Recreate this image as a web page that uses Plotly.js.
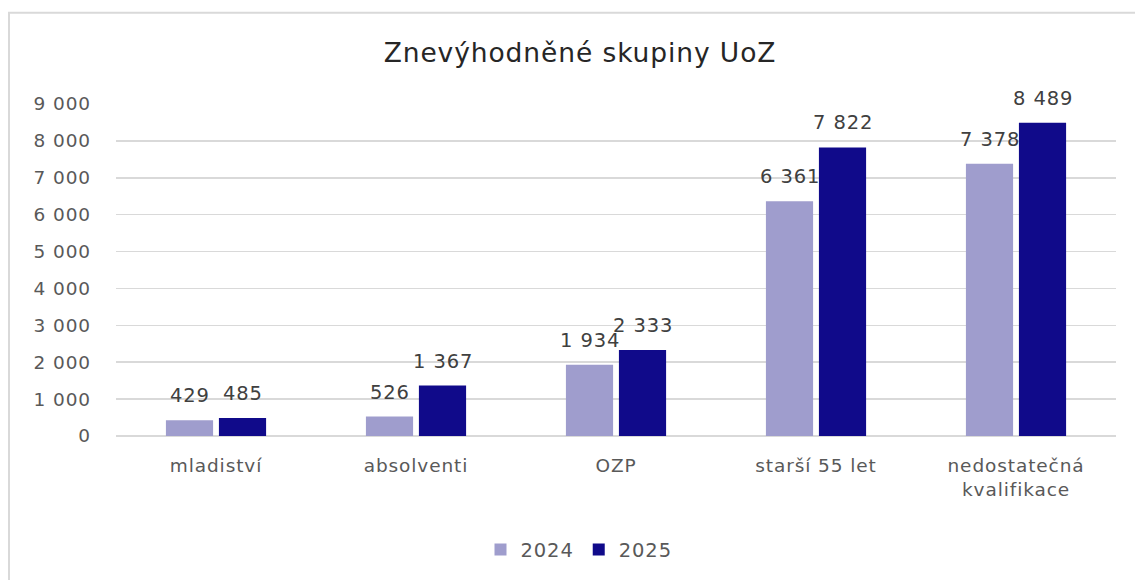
<!DOCTYPE html>
<html>
<head>
<meta charset="utf-8">
<script src="https://cdn.plot.ly/plotly-3.0.1.min.js"></script>
<style>
html,body{margin:0;padding:0;background:#fff;}#chart{width:1135px;height:580px;}
svg text{letter-spacing:0.9px;}
</style>
</head>
<body>
<div id="chart"></div>
<script>
const categories = ["mladiství", "absolventi", "OZP", "starší 55 let", "nedostatečná<br>kvalifikace"];
const values2024 = [429, 526, 1934, 6361, 7378];
const values2025 = [485, 1367, 2333, 7822, 8489];
const seriesNames = ["2024", "2025"];
const tickValues = [0, 1000, 2000, 3000, 4000, 5000, 6000, 7000, 8000, 9000];

const FONT = "DejaVu Sans, Noto Sans, sans-serif";
const LABEL_COLOR = "#404040";
const mk = (name, vals, color) => ({
  type: "bar", name: name, x: categories, y: vals,
  marker: {color: color}, hoverinfo: "none"
});
const data = [mk(seriesNames[0], values2024, "#9f9dcd"), mk(seriesNames[1], values2025, "#100a8a")];

const fmt = v => String(v).replace(/\B(?=(\d{3})+(?!\d))/g, " ");
const annotations = [];
[[values2024, -26.5], [values2025, 26.5]].forEach(([vals, dx]) => {
  vals.forEach((v, i) => annotations.push({
    x: categories[i], y: v, xref: "x", yref: "y", text: fmt(v), showarrow: false,
    xshift: dx, yshift: 11, yanchor: "bottom", xanchor: "center",
    font: {size: 19.5, color: LABEL_COLOR, family: FONT}
  }));
});

const layout = {
  width: 1135, height: 580,
  margin: {l: 116, r: 19, t: 104, b: 143},
  paper_bgcolor: "#fff", plot_bgcolor: "#fff",
  separators: ", ",
  font: {family: FONT, color: "#595959"},
  title: {text: "Znevýhodněné skupiny UoZ", x: 0.511, xref: "container", y: 0.909, yref: "container", yanchor: "middle", xanchor: "center",
          font: {size: 26.5, color: "#262626", family: FONT}},
  bargap: 0.47, bargroupgap: 0.11,
  xaxis: {type: "category", tickfont: {size: 18.5, color: "#595959"}, ticks: "", showline: false, showgrid: false, ticklabelstandoff: 16, fixedrange: true},
  yaxis: {range: [0, 9000], tickvals: tickValues, tickformat: ",d", tickfont: {size: 18.5, color: "#595959"},
          gridcolor: "#d9d9d9", gridwidth: 1.5, zeroline: true, zerolinecolor: "#d9d9d9", zerolinewidth: 1.5,
          showline: false, ticks: "", ticklabelstandoff: 24, fixedrange: true},
  showlegend: true,
  legend: {orientation: "h", x: 0.463, xanchor: "center", y: -0.339, yanchor: "middle",
           font: {size: 19.5, color: "#595959"}, traceorder: "normal", itemwidth: 30},
  annotations: annotations,
  shapes: [{type: "rect", xref: "paper", yref: "paper", x0: -0.107, x1: 1.1, y0: -0.6, y1: 1.275,
            line: {color: "#d9d9d9", width: 2}, fillcolor: "rgba(0,0,0,0)", layer: "below"}]
};
Plotly.newPlot("chart", data, layout, {staticPlot: true, displayModeBar: false});
</script>
</body>
</html>
